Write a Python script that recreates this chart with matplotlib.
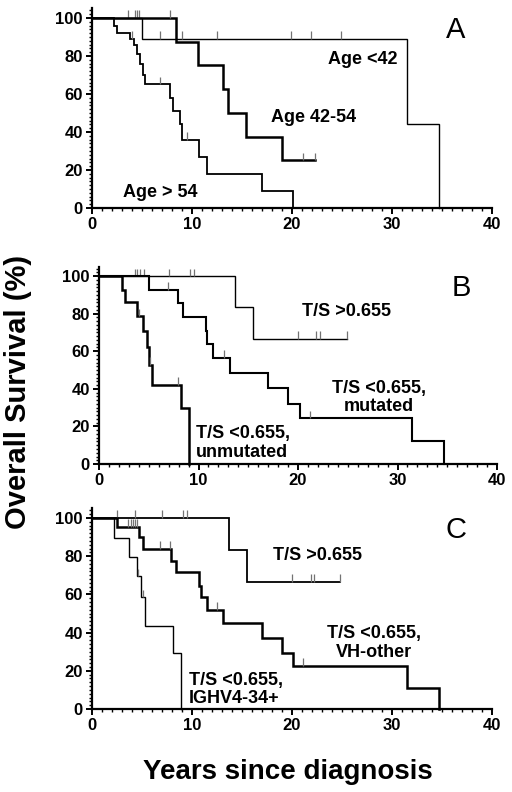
import numpy as np
import matplotlib
matplotlib.use("Agg")
import matplotlib.pyplot as plt
from matplotlib.ticker import MultipleLocator

plt.rcParams["font.family"] = ["Liberation Sans", "DejaVu Sans"]

# --- Panel A: age at diagnosis ---
a_young_t = [0, 5.0, 31.5, 34.7]
a_young_s = [100, 88.9, 44.4, 0]
a_young_cens = [3.6, 4.3, 4.5, 4.7, 6.8, 9.0, 12.5, 19.9, 21.9, 24.9]

a_mid_t = [0, 8.4, 10.6, 13.1, 13.6, 15.4, 19.0]
a_mid_s = [100, 87.5, 75, 62.5, 50, 37.5, 25]
a_mid_cens = [7.8, 21.1, 22.3]

a_old_t = [0, 2.2, 2.5, 3.8, 4.2, 4.5, 4.8, 5.1, 5.3, 7.8, 8.1, 8.8, 9.0, 10.7, 11.5, 17.0, 20.1]
a_old_s = [100, 96, 92, 89, 86, 81, 76, 70, 65, 58, 51, 44, 36, 27, 18, 9, 0]
a_old_cens = [4.0, 6.8, 9.5]

# --- Panel B: T/S ratio and mutation status ---
b_high_t = [0, 13.7, 15.5]
b_high_s = [100, 83.3, 66.7]
b_high_cens = [3.6, 3.85, 4.1, 4.5, 7.0, 9.1, 9.5, 20.0, 21.8, 22.2, 24.9]

b_mut_t = [0, 5.05, 7.9, 8.4, 10.75, 10.9, 11.5, 13.2, 17.0, 19.0, 20.2, 31.5, 34.7]
b_mut_s = [100, 92.6, 85.8, 78.4, 70.9, 63.8, 56.6, 48.6, 40.3, 31.9, 24.3, 12.1, 0]
b_mut_cens = [6.9, 12.55, 21.2]

b_unmut_t = [0, 2.3, 2.6, 3.85, 4.45, 4.8, 5.05, 5.3, 8.2, 9.0]
b_unmut_s = [100, 92.5, 86, 78.5, 71, 62, 52.7, 42.3, 30, 0]
b_unmut_cens = [4.05, 5.15, 7.9]

# --- Panel C: T/S ratio and IGHV4-34 ---
c_high_t = [0, 13.7, 15.5]
c_high_s = [100, 83.3, 66.7]
c_high_cens = [2.5, 4.3, 7.0, 9.1, 9.5, 20.0, 21.9, 22.2, 24.8]

c_other_t = [0, 2.5, 4.7, 5.1, 7.9, 8.4, 10.7, 10.85, 11.5, 13.1, 17.0, 19.0, 20.1, 31.5, 34.7]
c_other_s = [100, 95.4, 89.9, 84.0, 77.6, 71.6, 64.4, 58.5, 51.8, 44.9, 37.0, 29.5, 22.5, 11.2, 0]
c_other_cens = [3.6, 3.9, 4.1, 4.3, 4.5, 6.8, 7.8, 12.5, 21.1]

c_v434_t = [0, 2.2, 3.7, 4.5, 4.9, 5.3, 8.1, 8.9]
c_v434_s = [100, 89.4, 79.5, 69.5, 58.5, 43.6, 29.2, 0]
c_v434_cens = [4.6, 5.1]


def km(ax, t, s, cens, lw):
    end = max([t[-1]] + cens)
    ax.step(t + [end], s + [s[-1]], where="post", color="black", lw=lw,
            solid_joinstyle="miter", clip_on=False)
    idx = np.searchsorted(t, cens, side="right") - 1
    cs = np.array(s)[idx]
    ax.vlines(cens, cs, cs + 4, color="0.45", lw=0.9, clip_on=False)


def style(ax, letter):
    ax.set_xlim(0, 40)
    ax.set_ylim(0, 105)
    for side in ["top", "right"]:
        ax.spines[side].set_visible(False)
    for side in ["left", "bottom"]:
        ax.spines[side].set_linewidth(1.6)
    ax.set_xticks([0, 10, 20, 30, 40])
    ax.set_yticks([0, 20, 40, 60, 80, 100])
    ax.xaxis.set_minor_locator(MultipleLocator(1))
    ax.yaxis.set_minor_locator(MultipleLocator(2))
    ax.tick_params(which="major", direction="out", length=4.5, width=1.4,
                   labelsize=12, pad=2)
    ax.tick_params(which="minor", direction="out", length=2, width=1.0)
    for lab in ax.get_xticklabels() + ax.get_yticklabels():
        lab.set_fontweight("bold")
    ax.text(36.4, 93.5, letter, fontsize=21, ha="center", va="center")


fig = plt.figure(figsize=(5.12, 7.92), dpi=100)

axA = fig.add_axes([0.1797, 0.7374, 0.78125, 0.2519])
km(axA, a_young_t, a_young_s, a_young_cens, 1.0)
km(axA, a_mid_t, a_mid_s, a_mid_cens, 1.8)
km(axA, a_old_t, a_old_s, a_old_cens, 1.3)
style(axA, "A")
lbl = dict(fontsize=13, fontweight="bold", va="center")
axA.text(27.1, 78.4, "Age <42", ha="center", **lbl)
axA.text(22.2, 47.4, "Age 42-54", ha="center", **lbl)
axA.text(6.8, 8.4, "Age > 54", ha="center", **lbl)

axB = fig.add_axes([0.1934, 0.4141, 0.7773, 0.2492])
km(axB, b_high_t, b_high_s, b_high_cens, 1.0)
km(axB, b_mut_t, b_mut_s, b_mut_cens, 1.5)
km(axB, b_unmut_t, b_unmut_s, b_unmut_cens, 1.8)
style(axB, "B")
axB.text(24.9, 80.9, "T/S >0.655", ha="center", **lbl)
axB.text(28.1, 35.4, "T/S <0.655,\nmutated", ha="center", multialignment="center",
         linespacing=1.15, **lbl)
axB.text(9.7, 11.4, "T/S <0.655,\nunmutated", ha="left", multialignment="left",
         linespacing=1.15, **lbl)

axC = fig.add_axes([0.1797, 0.1048, 0.78125, 0.2532])
km(axC, c_high_t, c_high_s, c_high_cens, 1.3)
km(axC, c_other_t, c_other_s, c_other_cens, 1.8)
km(axC, c_v434_t, c_v434_s, c_v434_cens, 1.0)
style(axC, "C")
axC.text(22.5, 80.6, "T/S >0.655", ha="center", **lbl)
axC.text(28.2, 34.8, "T/S <0.655,\nVH-other", ha="center", multialignment="center",
         linespacing=1.15, **lbl)
axC.text(9.7, 10.2, "T/S <0.655,\nIGHV4-34+", ha="left", multialignment="left",
         linespacing=1.15, **lbl)

fig.text(0.036, 0.505, "Overall Survival (%)", rotation=90, fontsize=21,
         fontweight="bold", ha="center", va="center")
fig.text(0.5625, 0.025, "Years since diagnosis", fontsize=20,
         fontweight="bold", ha="center", va="center")

fig.savefig("out.png", dpi=100)
plt.close(fig)
